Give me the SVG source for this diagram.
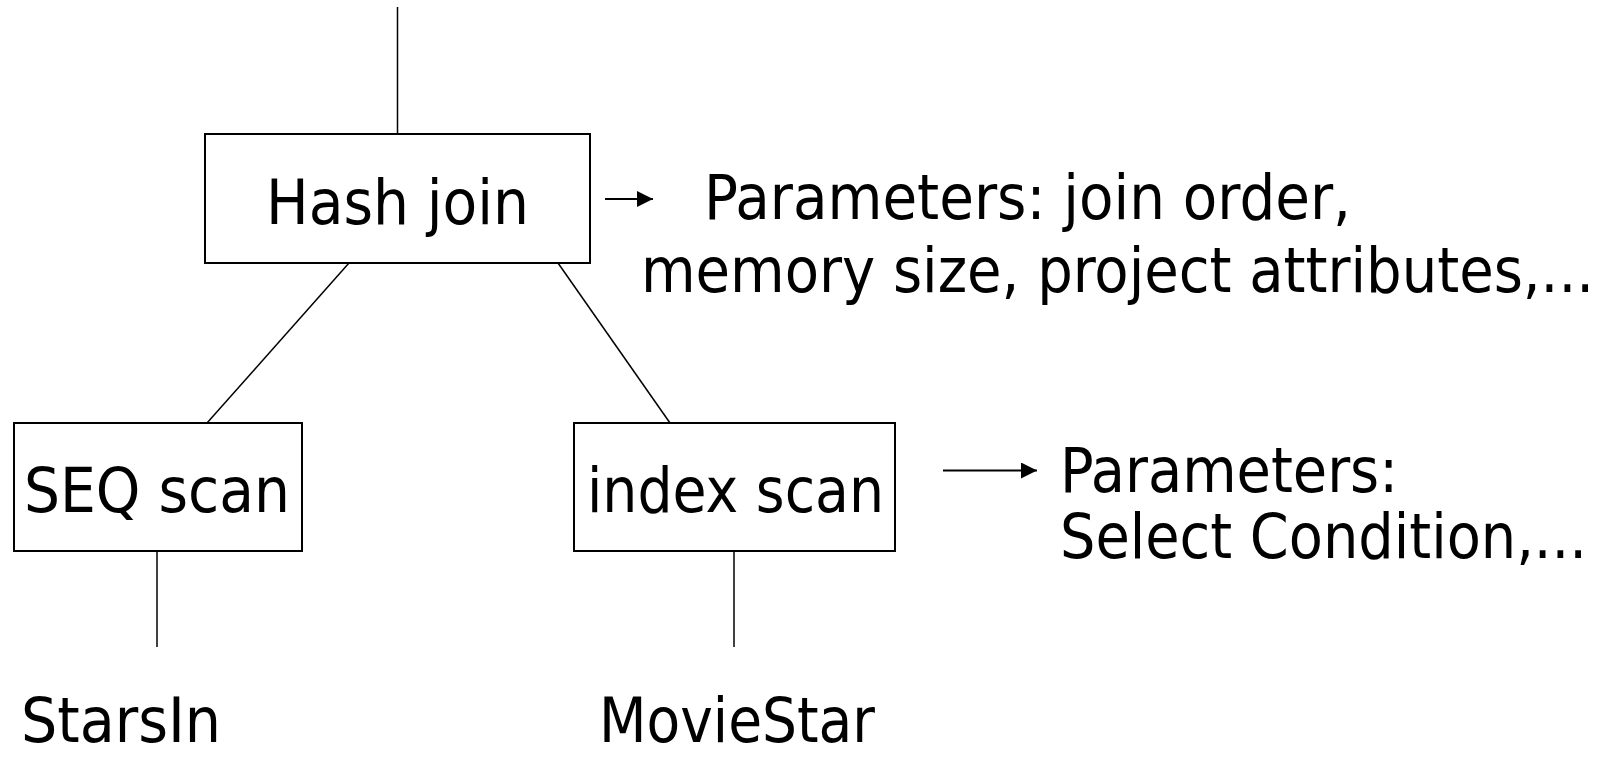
<svg xmlns="http://www.w3.org/2000/svg" width="1614" height="757" viewBox="0 0 1614 757">
  <style>
    .box { fill: #ffffff; stroke: #000000; stroke-width: 2; }
    .edge { stroke: #000000; stroke-width: 1.5; fill: none; }
    .arr { stroke: #000000; stroke-width: 2; fill: none; }
    .t { font-family: "DejaVu Sans Condensed", "DejaVu Sans", "Liberation Sans", sans-serif; font-stretch: condensed; font-size: 62px; fill: #000000; }
  </style>
  <defs>
    <marker id="ah" markerUnits="userSpaceOnUse" markerWidth="17" markerHeight="17" refX="16" refY="8" orient="auto">
      <path d="M0,0 L16,8 L0,16 z" fill="#000000"/>
    </marker>
  </defs>
  <rect width="1614" height="757" fill="#ffffff"/>

  <g id="connectors">
    <line class="edge" x1="397.5" y1="7" x2="397.5" y2="134"/>
    <line class="edge" x1="349" y1="263" x2="207" y2="423"/>
    <line class="edge" x1="558" y1="263" x2="670" y2="423"/>
    <line class="edge" x1="157" y1="551" x2="157" y2="647"/>
    <line class="edge" x1="734" y1="551" x2="734" y2="647"/>
    <line class="arr" x1="605" y1="199" x2="653" y2="199" marker-end="url(#ah)"/>
    <line class="arr" x1="943" y1="470.5" x2="1037" y2="470.5" marker-end="url(#ah)"/>
  </g>

  <g id="hash-join">
    <rect class="box" x="205" y="134" width="385" height="129"/>
    <text class="t" x="266" y="224" textLength="263" lengthAdjust="spacingAndGlyphs">Hash join</text>
  </g>

  <g id="seq-scan">
    <rect class="box" x="14" y="423" width="288" height="128"/>
    <text class="t" x="24" y="512" textLength="266" lengthAdjust="spacingAndGlyphs">SEQ scan</text>
  </g>

  <g id="index-scan">
    <rect class="box" x="574" y="423" width="321" height="128"/>
    <text class="t" x="587" y="512" textLength="297" lengthAdjust="spacingAndGlyphs">index scan</text>
  </g>

  <g id="hash-params">
    <text class="t" x="704" y="219" textLength="647" lengthAdjust="spacingAndGlyphs">Parameters: join order,</text>
    <text class="t" x="641" y="292" textLength="953" lengthAdjust="spacingAndGlyphs">memory size, project attributes,...</text>
  </g>

  <g id="index-params">
    <text class="t" x="1060" y="492" textLength="338" lengthAdjust="spacingAndGlyphs">Parameters:</text>
    <text class="t" x="1060" y="558" textLength="527" lengthAdjust="spacingAndGlyphs">Select Condition,...</text>
  </g>

  <g id="starsin">
    <text class="t" x="21" y="742" textLength="200" lengthAdjust="spacingAndGlyphs">StarsIn</text>
  </g>

  <g id="moviestar">
    <text class="t" x="599" y="742" textLength="276" lengthAdjust="spacingAndGlyphs">MovieStar</text>
  </g>
</svg>
